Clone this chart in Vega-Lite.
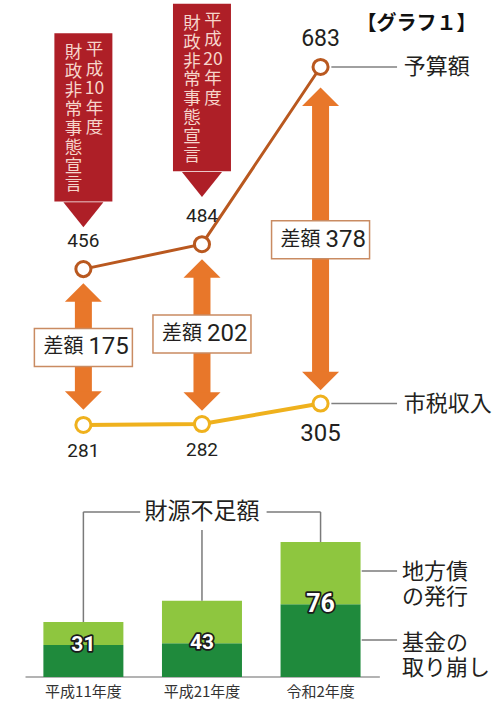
{
  "$schema": "https://vega.github.io/schema/vega-lite/v6.json",
  "padding": 0,
  "spacing": 0,
  "bounds": "flush",
  "background": "white",
  "config": {"view": {"stroke": null}},
  "resolve": {"scale": {"x": "independent", "y": "independent"}},
  "datasets": {
    "series": [
      {"i": 0, "s": "予算額", "v": 456},
      {"i": 1, "s": "予算額", "v": 484},
      {"i": 2, "s": "予算額", "v": 683},
      {"i": 0, "s": "市税収入", "v": 281},
      {"i": 1, "s": "市税収入", "v": 282},
      {"i": 2, "s": "市税収入", "v": 305}
    ],
    "gap": [
      {"i": 0, "num": "175", "top": 440, "bottom": 298, "mid": 368},
      {"i": 1, "num": "202", "top": 467, "bottom": 297, "mid": 383},
      {"i": 2, "num": "378", "top": 660, "bottom": 320, "mid": 489}
    ],
    "banner": [
      {"i": 0, "top": 721, "bottom": 532, "tip": 503, "year": "平\n成\n10\n年\n度", "text": "財\n政\n非\n常\n事\n態\n宣\n言"},
      {"i": 1, "top": 754, "bottom": 566, "tip": 537, "year": "平\n成\n20\n年\n度", "text": "財\n政\n非\n常\n事\n態\n宣\n言"}
    ],
    "bars": [
      {"i": 0, "part": "基金の取り崩し", "k": 0, "v": 18},
      {"i": 0, "part": "地方債の発行", "k": 1, "v": 13},
      {"i": 1, "part": "基金の取り崩し", "k": 0, "v": 19},
      {"i": 1, "part": "地方債の発行", "k": 1, "v": 24},
      {"i": 2, "part": "基金の取り崩し", "k": 0, "v": 41},
      {"i": 2, "part": "地方債の発行", "k": 1, "v": 35}
    ],
    "totals": [
      {"i": 0, "total": 31, "fund": 18, "year": "平成11年度"},
      {"i": 1, "total": 43, "fund": 19, "year": "平成21年度"},
      {"i": 2, "total": 76, "fund": 41, "year": "令和2年度"}
    ],
    "bracket": [
      {"x": 0, "x2": 0.479, "y": 93, "y2": 93},
      {"x": 0, "x2": 0, "y": 93, "y2": 31},
      {"x": 1.545, "x2": 2, "y": 93, "y2": 93},
      {"x": 2, "x2": 2, "y": 93, "y2": 76},
      {"x": 1, "x2": 1, "y": 82.8, "y2": 43}
    ],
    "sideLabels": [
      {"y": 59.7, "top": 64.8, "t": "地方債\nの発行"},
      {"y": 20.8, "top": 24.8, "t": "基金の\n取り崩し"}
    ]
  },
  "vconcat": [
    {
      "width": 500,
      "height": 470,
      "layer": [
        {
          "data": {"name": "banner"},
          "mark": {"type": "bar", "width": 58, "color": "#ae1f27"},
          "encoding": {
            "x": {"field": "i", "type": "quantitative", "scale": {"domain": [-0.661, 3.471], "nice": false, "zero": false}, "axis": null},
            "y": {"field": "top", "type": "quantitative", "scale": {"domain": [230.4, 758.2], "nice": false, "zero": false}, "axis": null},
            "y2": {"field": "bottom"}
          }
        },
        {
          "data": {"name": "banner"},
          "mark": {"type": "point", "shape": "M0,0L-1,-1.25L1,-1.25Z", "size": 1600, "filled": true, "color": "#ae1f27", "strokeWidth": 0, "opacity": 1},
          "encoding": {
            "x": {"field": "i", "type": "quantitative", "scale": {"domain": [-0.661, 3.471], "nice": false, "zero": false}, "axis": null},
            "y": {"field": "tip", "type": "quantitative", "scale": {"domain": [230.4, 758.2], "nice": false, "zero": false}, "axis": null}
          }
        },
        {
          "data": {"name": "banner"},
          "mark": {"type": "text", "lineBreak": "\n", "font": "Noto Sans CJK JP", "fontSize": 17.5, "lineHeight": 19.5, "baseline": "top", "align": "center", "dx": 11, "dy": 8, "color": "#f6d5cb"},
          "encoding": {
            "x": {"field": "i", "type": "quantitative", "scale": {"domain": [-0.661, 3.471], "nice": false, "zero": false}, "axis": null},
            "y": {"field": "top", "type": "quantitative", "scale": {"domain": [230.4, 758.2], "nice": false, "zero": false}, "axis": null},
            "text": {"field": "year", "type": "nominal"}
          }
        },
        {
          "data": {"name": "banner"},
          "mark": {"type": "text", "lineBreak": "\n", "font": "Noto Sans CJK JP", "fontSize": 17.5, "lineHeight": 18.9, "baseline": "top", "align": "center", "dx": -10, "dy": 11, "color": "#f6d5cb"},
          "encoding": {
            "x": {"field": "i", "type": "quantitative", "scale": {"domain": [-0.661, 3.471], "nice": false, "zero": false}, "axis": null},
            "y": {"field": "top", "type": "quantitative", "scale": {"domain": [230.4, 758.2], "nice": false, "zero": false}, "axis": null},
            "text": {"field": "text", "type": "nominal"}
          }
        },
        {
          "data": {"name": "series"},
          "transform": [{"filter": "datum.s == '予算額'"}],
          "mark": {"type": "line", "color": "#b9581f", "strokeWidth": 3},
          "encoding": {
            "x": {"field": "i", "type": "quantitative", "scale": {"domain": [-0.661, 3.471], "nice": false, "zero": false}, "axis": null},
            "y": {"field": "v", "type": "quantitative", "scale": {"domain": [230.4, 758.2], "nice": false, "zero": false}, "axis": null}
          }
        },
        {
          "data": {"name": "series"},
          "transform": [{"filter": "datum.s == '市税収入'"}],
          "mark": {"type": "line", "color": "#efb11d", "strokeWidth": 4},
          "encoding": {
            "x": {"field": "i", "type": "quantitative", "scale": {"domain": [-0.661, 3.471], "nice": false, "zero": false}, "axis": null},
            "y": {"field": "v", "type": "quantitative", "scale": {"domain": [230.4, 758.2], "nice": false, "zero": false}, "axis": null}
          }
        },
        {
          "data": {"name": "gap"},
          "mark": {"type": "rule", "color": "#e8772a", "strokeWidth": 17, "strokeCap": "butt", "yOffset": 17, "y2Offset": -17},
          "encoding": {
            "x": {"field": "i", "type": "quantitative", "scale": {"domain": [-0.661, 3.471], "nice": false, "zero": false}, "axis": null},
            "y": {"field": "top", "type": "quantitative", "scale": {"domain": [230.4, 758.2], "nice": false, "zero": false}, "axis": null},
            "y2": {"field": "bottom"}
          }
        },
        {
          "data": {"name": "gap"},
          "mark": {"type": "point", "shape": "M0,0L-1,1L1,1Z", "size": 1369, "filled": true, "color": "#e8772a", "strokeWidth": 0, "opacity": 1},
          "encoding": {
            "x": {"field": "i", "type": "quantitative", "scale": {"domain": [-0.661, 3.471], "nice": false, "zero": false}, "axis": null},
            "y": {"field": "top", "type": "quantitative", "scale": {"domain": [230.4, 758.2], "nice": false, "zero": false}, "axis": null}
          }
        },
        {
          "data": {"name": "gap"},
          "mark": {"type": "point", "shape": "M0,0L-1,-1L1,-1Z", "size": 1369, "filled": true, "color": "#e8772a", "strokeWidth": 0, "opacity": 1},
          "encoding": {
            "x": {"field": "i", "type": "quantitative", "scale": {"domain": [-0.661, 3.471], "nice": false, "zero": false}, "axis": null},
            "y": {"field": "bottom", "type": "quantitative", "scale": {"domain": [230.4, 758.2], "nice": false, "zero": false}, "axis": null}
          }
        },
        {
          "data": {"name": "gap"},
          "mark": {"type": "point", "shape": "M-1,-0.388L1,-0.388L1,0.388L-1,0.388Z", "size": 9604, "filled": true, "fill": "white", "stroke": "#c98b62", "strokeWidth": 1.5, "opacity": 1},
          "encoding": {
            "x": {"field": "i", "type": "quantitative", "scale": {"domain": [-0.661, 3.471], "nice": false, "zero": false}, "axis": null},
            "y": {"field": "mid", "type": "quantitative", "scale": {"domain": [230.4, 758.2], "nice": false, "zero": false}, "axis": null}
          }
        },
        {
          "data": {"name": "gap"},
          "mark": {"type": "text", "text": "差額", "font": "Noto Sans CJK JP", "fontSize": 20, "align": "right", "baseline": "middle", "dx": 0, "color": "#231f20"},
          "encoding": {
            "x": {"field": "i", "type": "quantitative", "scale": {"domain": [-0.661, 3.471], "nice": false, "zero": false}, "axis": null},
            "y": {"field": "mid", "type": "quantitative", "scale": {"domain": [230.4, 758.2], "nice": false, "zero": false}, "axis": null}
          }
        },
        {
          "data": {"name": "gap"},
          "mark": {"type": "text", "font": "Roboto, Noto Sans CJK JP", "fontSize": 24, "align": "left", "baseline": "middle", "dx": 5, "color": "#231f20"},
          "encoding": {
            "x": {"field": "i", "type": "quantitative", "scale": {"domain": [-0.661, 3.471], "nice": false, "zero": false}, "axis": null},
            "y": {"field": "mid", "type": "quantitative", "scale": {"domain": [230.4, 758.2], "nice": false, "zero": false}, "axis": null},
            "text": {"field": "num", "type": "nominal"}
          }
        },
        {
          "data": {"name": "series"},
          "mark": {"type": "point", "shape": "circle", "size": 227, "filled": true, "fill": "white", "strokeWidth": 3, "opacity": 1},
          "encoding": {
            "x": {"field": "i", "type": "quantitative", "scale": {"domain": [-0.661, 3.471], "nice": false, "zero": false}, "axis": null},
            "y": {"field": "v", "type": "quantitative", "scale": {"domain": [230.4, 758.2], "nice": false, "zero": false}, "axis": null},
            "stroke": {"field": "s", "type": "nominal", "scale": {"domain": ["予算額", "市税収入"], "range": ["#b9581f", "#efb11d"]}, "legend": null}
          }
        },
        {
          "data": {"name": "series"},
          "transform": [{"filter": "datum.s == '予算額' && datum.i < 2"}],
          "mark": {"type": "text", "font": "Roboto, Noto Sans CJK JP", "fontSize": 19, "baseline": "middle", "dy": -28, "color": "#231f20"},
          "encoding": {
            "x": {"field": "i", "type": "quantitative", "scale": {"domain": [-0.661, 3.471], "nice": false, "zero": false}, "axis": null},
            "y": {"field": "v", "type": "quantitative", "scale": {"domain": [230.4, 758.2], "nice": false, "zero": false}, "axis": null},
            "text": {"field": "v", "type": "quantitative"}
          }
        },
        {
          "data": {"name": "series"},
          "transform": [{"filter": "datum.s == '予算額' && datum.i == 2"}],
          "mark": {"type": "text", "font": "Roboto, Noto Sans CJK JP", "fontSize": 23, "baseline": "middle", "dy": -28, "color": "#231f20"},
          "encoding": {
            "x": {"field": "i", "type": "quantitative", "scale": {"domain": [-0.661, 3.471], "nice": false, "zero": false}, "axis": null},
            "y": {"field": "v", "type": "quantitative", "scale": {"domain": [230.4, 758.2], "nice": false, "zero": false}, "axis": null},
            "text": {"field": "v", "type": "quantitative"}
          }
        },
        {
          "data": {"name": "series"},
          "transform": [{"filter": "datum.s == '市税収入' && datum.i < 2"}],
          "mark": {"type": "text", "font": "Roboto, Noto Sans CJK JP", "fontSize": 19, "baseline": "middle", "dy": 26, "color": "#231f20"},
          "encoding": {
            "x": {"field": "i", "type": "quantitative", "scale": {"domain": [-0.661, 3.471], "nice": false, "zero": false}, "axis": null},
            "y": {"field": "v", "type": "quantitative", "scale": {"domain": [230.4, 758.2], "nice": false, "zero": false}, "axis": null},
            "text": {"field": "v", "type": "quantitative"}
          }
        },
        {
          "data": {"name": "series"},
          "transform": [{"filter": "datum.s == '市税収入' && datum.i == 2"}],
          "mark": {"type": "text", "font": "Roboto, Noto Sans CJK JP", "fontSize": 24, "baseline": "middle", "dy": 30, "color": "#231f20"},
          "encoding": {
            "x": {"field": "i", "type": "quantitative", "scale": {"domain": [-0.661, 3.471], "nice": false, "zero": false}, "axis": null},
            "y": {"field": "v", "type": "quantitative", "scale": {"domain": [230.4, 758.2], "nice": false, "zero": false}, "axis": null},
            "text": {"field": "v", "type": "quantitative"}
          }
        },
        {
          "data": {"name": "series"},
          "transform": [{"filter": "datum.i == 2"}],
          "mark": {"type": "rule", "color": "#808080", "strokeWidth": 1.5},
          "encoding": {
            "x": {"datum": 2.091, "type": "quantitative", "scale": {"domain": [-0.661, 3.471], "nice": false, "zero": false}, "axis": null},
            "x2": {"datum": 2.645},
            "y": {"field": "v", "type": "quantitative", "scale": {"domain": [230.4, 758.2], "nice": false, "zero": false}, "axis": null}
          }
        },
        {
          "data": {"name": "series"},
          "transform": [{"filter": "datum.i == 2"}],
          "mark": {"type": "text", "font": "Noto Sans CJK JP", "fontSize": 22, "align": "left", "baseline": "middle", "color": "#231f20"},
          "encoding": {
            "x": {"datum": 2.702, "type": "quantitative", "scale": {"domain": [-0.661, 3.471], "nice": false, "zero": false}, "axis": null},
            "y": {"field": "v", "type": "quantitative", "scale": {"domain": [230.4, 758.2], "nice": false, "zero": false}, "axis": null},
            "text": {"field": "s", "type": "nominal"}
          }
        },
        {
          "data": {"values": [{"t": "【グラフ１】"}]},
          "mark": {"type": "text", "font": "Noto Sans CJK JP", "fontSize": 20, "fontWeight": "bold", "align": "center", "baseline": "middle", "color": "#111111"},
          "encoding": {
            "x": {"datum": 2.81, "type": "quantitative", "scale": {"domain": [-0.661, 3.471], "nice": false, "zero": false}, "axis": null},
            "y": {"datum": 731, "type": "quantitative", "scale": {"domain": [230.4, 758.2], "nice": false, "zero": false}, "axis": null},
            "text": {"field": "t", "type": "nominal"}
          }
        }
      ]
    },
    {
      "width": 500,
      "height": 234,
      "layer": [
        {
          "data": {"values": [{}]},
          "mark": {"type": "rule", "color": "#9a9a9a", "strokeWidth": 1.5},
          "encoding": {
            "x": {"datum": -0.488, "type": "quantitative", "scale": {"domain": [-0.661, 3.471], "nice": false, "zero": false}, "axis": null},
            "x2": {"datum": 2.5},
            "y": {"datum": 0, "type": "quantitative", "scale": {"domain": [-15.2, 116.6], "nice": false, "zero": false}, "axis": null}
          }
        },
        {
          "data": {"name": "bars"},
          "mark": {"type": "bar", "width": 80},
          "encoding": {
            "x": {"field": "i", "type": "quantitative", "scale": {"domain": [-0.661, 3.471], "nice": false, "zero": false}, "axis": null},
            "y": {"field": "v", "type": "quantitative", "stack": "zero", "scale": {"domain": [-15.2, 116.6], "nice": false, "zero": false}, "axis": null},
            "color": {"field": "part", "type": "nominal", "scale": {"domain": ["基金の取り崩し", "地方債の発行"], "range": ["#1f8a3c", "#8ec63f"]}, "legend": null},
            "order": {"field": "k", "type": "quantitative"}
          }
        },
        {
          "data": {"name": "bracket"},
          "mark": {"type": "rule", "color": "#7a7a7a", "strokeWidth": 1.5},
          "encoding": {
            "x": {"field": "x", "type": "quantitative", "scale": {"domain": [-0.661, 3.471], "nice": false, "zero": false}, "axis": null},
            "x2": {"field": "x2"},
            "y": {"field": "y", "type": "quantitative", "scale": {"domain": [-15.2, 116.6], "nice": false, "zero": false}, "axis": null},
            "y2": {"field": "y2"}
          }
        },
        {
          "data": {"values": [{"t": "財源不足額"}]},
          "mark": {"type": "text", "font": "Noto Sans CJK JP", "fontSize": 23, "align": "center", "baseline": "middle", "color": "#231f20"},
          "encoding": {
            "x": {"datum": 1, "type": "quantitative", "scale": {"domain": [-0.661, 3.471], "nice": false, "zero": false}, "axis": null},
            "y": {"datum": 93, "type": "quantitative", "scale": {"domain": [-15.2, 116.6], "nice": false, "zero": false}, "axis": null},
            "text": {"field": "t", "type": "nominal"}
          }
        },
        {
          "data": {"name": "sideLabels"},
          "mark": {"type": "rule", "color": "#7a7a7a", "strokeWidth": 1.5},
          "encoding": {
            "x": {"datum": 2.347, "type": "quantitative", "scale": {"domain": [-0.661, 3.471], "nice": false, "zero": false}, "axis": null},
            "x2": {"datum": 2.645},
            "y": {"field": "y", "type": "quantitative", "scale": {"domain": [-15.2, 116.6], "nice": false, "zero": false}, "axis": null}
          }
        },
        {
          "data": {"name": "sideLabels"},
          "mark": {"type": "text", "lineBreak": "\n", "font": "Noto Sans CJK JP", "fontSize": 22, "lineHeight": 25.5, "align": "left", "baseline": "top", "color": "#231f20"},
          "encoding": {
            "x": {"datum": 2.686, "type": "quantitative", "scale": {"domain": [-0.661, 3.471], "nice": false, "zero": false}, "axis": null},
            "y": {"field": "top", "type": "quantitative", "scale": {"domain": [-15.2, 116.6], "nice": false, "zero": false}, "axis": null},
            "text": {"field": "t", "type": "nominal"}
          }
        },
        {
          "data": {"name": "totals"},
          "mark": {"type": "text", "font": "Roboto, Noto Sans CJK JP", "fontWeight": "bold", "baseline": "middle", "stroke": "#1a1a1a", "strokeWidth": 3.5, "strokeJoin": "round", "color": "#1a1a1a"},
          "encoding": {
            "x": {"field": "i", "type": "quantitative", "scale": {"domain": [-0.661, 3.471], "nice": false, "zero": false}, "axis": null},
            "y": {"field": "fund", "type": "quantitative", "scale": {"domain": [-15.2, 116.6], "nice": false, "zero": false}, "axis": null},
            "text": {"field": "total", "type": "quantitative"},
            "size": {"condition": {"test": "datum.total > 50", "value": 25}, "value": 21}
          }
        },
        {
          "data": {"name": "totals"},
          "mark": {"type": "text", "font": "Roboto, Noto Sans CJK JP", "fontWeight": "bold", "baseline": "middle", "color": "white"},
          "encoding": {
            "x": {"field": "i", "type": "quantitative", "scale": {"domain": [-0.661, 3.471], "nice": false, "zero": false}, "axis": null},
            "y": {"field": "fund", "type": "quantitative", "scale": {"domain": [-15.2, 116.6], "nice": false, "zero": false}, "axis": null},
            "text": {"field": "total", "type": "quantitative"},
            "size": {"condition": {"test": "datum.total > 50", "value": 25}, "value": 21}
          }
        },
        {
          "data": {"name": "totals"},
          "mark": {"type": "text", "font": "Noto Sans CJK JP", "fontSize": 15, "baseline": "middle", "color": "#333333"},
          "encoding": {
            "x": {"field": "i", "type": "quantitative", "scale": {"domain": [-0.661, 3.471], "nice": false, "zero": false}, "axis": null},
            "y": {"datum": -8.5, "type": "quantitative", "scale": {"domain": [-15.2, 116.6], "nice": false, "zero": false}, "axis": null},
            "text": {"field": "year", "type": "nominal"}
          }
        }
      ]
    }
  ]
}
